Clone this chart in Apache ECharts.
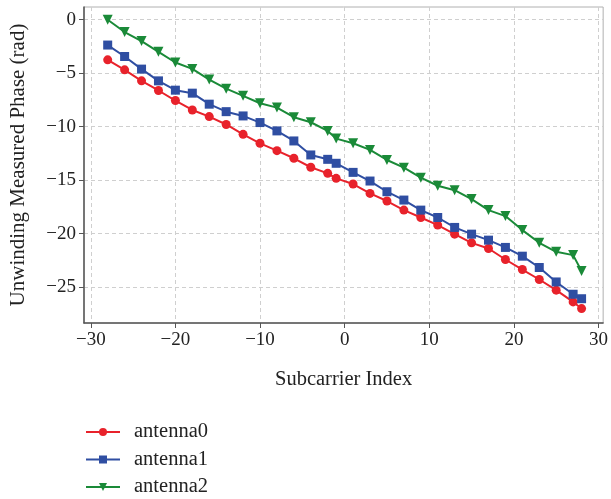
<!DOCTYPE html>
<html>
<head>
<meta charset="utf-8">
<script src="https://cdn.jsdelivr.net/npm/echarts@6/dist/echarts.min.js"></script>
<style>html,body{margin:0;padding:0;background:#fff}#c{width:611px;height:499px}</style>
</head>
<body>
<div id="c"></div>
<script>
const subcarriers = [-28,-26,-24,-22,-20,-18,-16,-14,-12,-10,-8,-6,-4,-2,-1,1,3,5,7,9,11,13,15,17,19,21,23,25,27,28];
const antenna0 = [-3.75,-4.69,-5.72,-6.62,-7.56,-8.44,-9.06,-9.8,-10.72,-11.56,-12.25,-12.96,-13.8,-14.37,-14.84,-15.37,-16.25,-16.96,-17.81,-18.5,-19.21,-20.06,-20.87,-21.4,-22.43,-23.37,-24.3,-25.3,-26.4,-27.02];
const antenna1 = [-2.37,-3.44,-4.62,-5.72,-6.59,-6.87,-7.9,-8.6,-9.0,-9.62,-10.4,-11.34,-12.65,-13.06,-13.43,-14.28,-15.09,-16.09,-16.87,-17.81,-18.5,-19.43,-20.06,-20.62,-21.3,-22.12,-23.18,-24.53,-25.68,-26.1];
const antenna2 = [0,-1.15,-2.0,-3.0,-4.0,-4.6,-5.6,-6.45,-7.12,-7.81,-8.22,-9.12,-9.59,-10.4,-11.12,-11.56,-12.18,-13.12,-13.84,-14.78,-15.53,-15.95,-16.78,-17.81,-18.37,-19.68,-20.87,-21.71,-22.02,-23.5];
const seriesNames = ['antenna0','antenna1','antenna2'];
const xTicks = [-30,-20,-10,0,10,20,30];
const yTicks = [-25,-20,-15,-10,-5,0];

const pair = (ys) => subcarriers.map((x,i)=>[x, ys[i]]);
const minus = v => String(v).replace('-', '\u2212');
const font = "'Liberation Serif', 'DejaVu Serif', serif";
const gridLine = {show:true, lineStyle:{color:'#cfcfcf', type:[4,3], width:1}};
const legendTops = [421, 448.5, 476];

const chart = echarts.init(document.getElementById('c'), null, {renderer:'canvas'});
chart.setOption({
  animation:false,
  backgroundColor:'#fff',
  grid:{left:84, right:3, top:7, bottom:176, show:true, borderColor:'#b0b0b0', borderWidth:1},
  legend: seriesNames.map((n, i) => ({
    orient:'vertical', left:85, top:legendTops[i], padding:0, itemWidth:34, itemHeight:10,
    data:[n],
    textStyle:{fontFamily:font, fontSize:20.5, color:'#222', lineHeight:22, padding:[0,0,0,9]}
  })),
  xAxis:{
    type:'value', min:-30.8, max:30.55,
    name:'Subcarrier Index', nameLocation:'middle', nameGap:46,
    nameTextStyle:{fontFamily:font, fontSize:20.5, color:'#222'},
    axisLine:{show:true, onZero:false, lineStyle:{color:'#555', width:1.5}},
    axisTick:{show:true, length:5, customValues:xTicks, lineStyle:{color:'#555'}},
    axisLabel:{customValues:xTicks, formatter:minus, fontFamily:font, fontSize:19, color:'#222', margin:8},
    splitLine:gridLine
  },
  yAxis:{
    type:'value', min:-28.37, max:1.19,
    name:'Unwinding Measured Phase (rad)', nameLocation:'middle', nameGap:55,
    nameTextStyle:{fontFamily:font, fontSize:21, color:'#222'},
    axisLine:{show:true, onZero:false, lineStyle:{color:'#555', width:1.5}},
    axisTick:{show:true, length:5, customValues:yTicks, lineStyle:{color:'#555'}},
    axisLabel:{customValues:yTicks, formatter:minus, fontFamily:font, fontSize:19, color:'#222', margin:8},
    splitLine:gridLine
  },
  series:[
    {name:seriesNames[0], type:'line', data:pair(antenna0), symbol:'circle', symbolSize:9,
     itemStyle:{color:'#e8222b'}, lineStyle:{color:'#e8222b', width:2}},
    {name:seriesNames[1], type:'line', data:pair(antenna1), symbol:'rect', symbolSize:9,
     itemStyle:{color:'#2f4ea2'}, lineStyle:{color:'#2f4ea2', width:2}},
    {name:seriesNames[2], type:'line', data:pair(antenna2), symbol:'triangle', symbolRotate:180, symbolSize:10,
     itemStyle:{color:'#1a8a38'}, lineStyle:{color:'#1a8a38', width:2}}
  ]
});
</script>
</body>
</html>
